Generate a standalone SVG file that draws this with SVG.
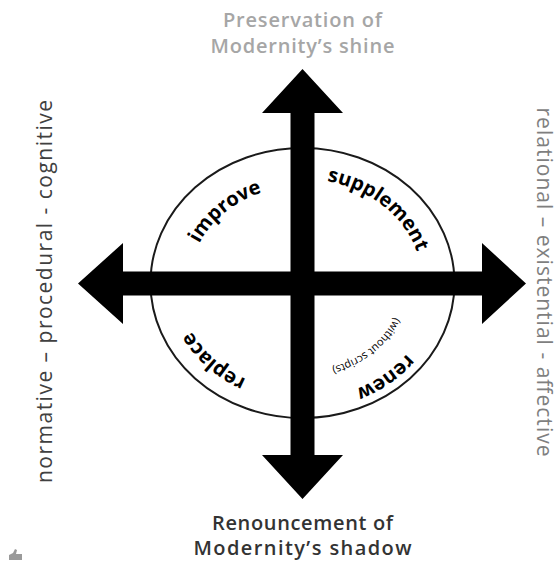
<svg xmlns="http://www.w3.org/2000/svg" xmlns:xlink="http://www.w3.org/1999/xlink" width="559" height="563" viewBox="0 0 559 563">
<style>
.t{font-family:"Open Sans","Noto Sans","Liberation Sans",sans-serif;}
.hd{font-size:20px;font-weight:600;text-anchor:middle;}
.side{font-size:21px;font-weight:400;text-anchor:middle;}
.arc{font-size:20px;font-weight:700;fill:#000;}
.sm{font-size:11px;font-weight:400;fill:#000;}
.axis{fill:#000;}
</style>
<defs>
<path id="pImprove" d="M 189.5,283 A 113 97 0 0 1 415.5,283"/>
<path id="pSupp" d="M 182.5,283 A 120 104 0 0 1 422.5,283"/>
<path id="pReplace" d="M 426.5,283 A 124 108 0 0 1 178.5,283"/>
<path id="pRenew" d="M 434.5,283 A 132 116 0 0 1 170.5,283"/>
<path id="pWithout" d="M 402.5,283 A 100 88 0 0 1 202.5,283"/>
</defs>
<rect width="559" height="563" fill="#fff"/>
<g id="circle">
<ellipse cx="302.5" cy="283" rx="152" ry="135" fill="none" stroke="#1a1a1a" stroke-width="2"/>
</g>
<g id="connectors">
<polygon class="axis" points="302.5,69 343,113 314.5,113 314.5,455 343,455 302.5,499 262,455 290.5,455 290.5,113 262,113"/>
<polygon class="axis" points="78,283.5 123,243 123,271.5 482,271.5 482,243 526,283.5 482,324 482,295.5 123,295.5 123,324"/>
</g>
<g id="label-top">
<text class="t hd" fill="#a6a6a6" x="302.5" y="27" textLength="159">Preservation of</text>
<text class="t hd" fill="#a6a6a6" x="302.5" y="53" textLength="184">Modernity’s shine</text>
</g>
<g id="label-bottom">
<text class="t hd" fill="#333" x="302.5" y="530" textLength="181">Renouncement of</text>
<text class="t hd" fill="#333" x="302.5" y="555" textLength="218">Modernity’s shadow</text>
</g>
<g id="label-left">
<text class="t side" fill="#404040" transform="translate(52,291.5) rotate(-90)" textLength="383">normative – procedural - cognitive</text>
</g>
<g id="label-right">
<text class="t side" fill="#7f7f7f" transform="translate(537,282) rotate(90)" textLength="349">relational – existential - affective</text>
</g>
<g id="q-improve">
<text class="t arc" text-anchor="middle"><textPath xlink:href="#pImprove" href="#pImprove" startOffset="25%">improve</textPath></text>
</g>
<g id="q-supplement">
<text class="t arc" text-anchor="middle"><textPath xlink:href="#pSupp" href="#pSupp" startOffset="74%">supplement</textPath></text>
</g>
<g id="q-replace">
<text class="t arc" text-anchor="middle"><textPath xlink:href="#pReplace" href="#pReplace" startOffset="76%">replace</textPath></text>
</g>
<g id="q-renew">
<text class="t arc" text-anchor="middle"><textPath xlink:href="#pRenew" href="#pRenew" startOffset="28%">renew</textPath></text>
<text class="t sm" text-anchor="middle"><textPath xlink:href="#pWithout" href="#pWithout" startOffset="26%">(without scripts)</textPath></text>
</g>
<g id="icon">
<path d="M 9,560 L 9,555 L 13,553 L 15,549 L 17,550 L 16,554 L 22,554 L 22,560 Z" fill="#9a9a9a"/>
</g>
</svg>
